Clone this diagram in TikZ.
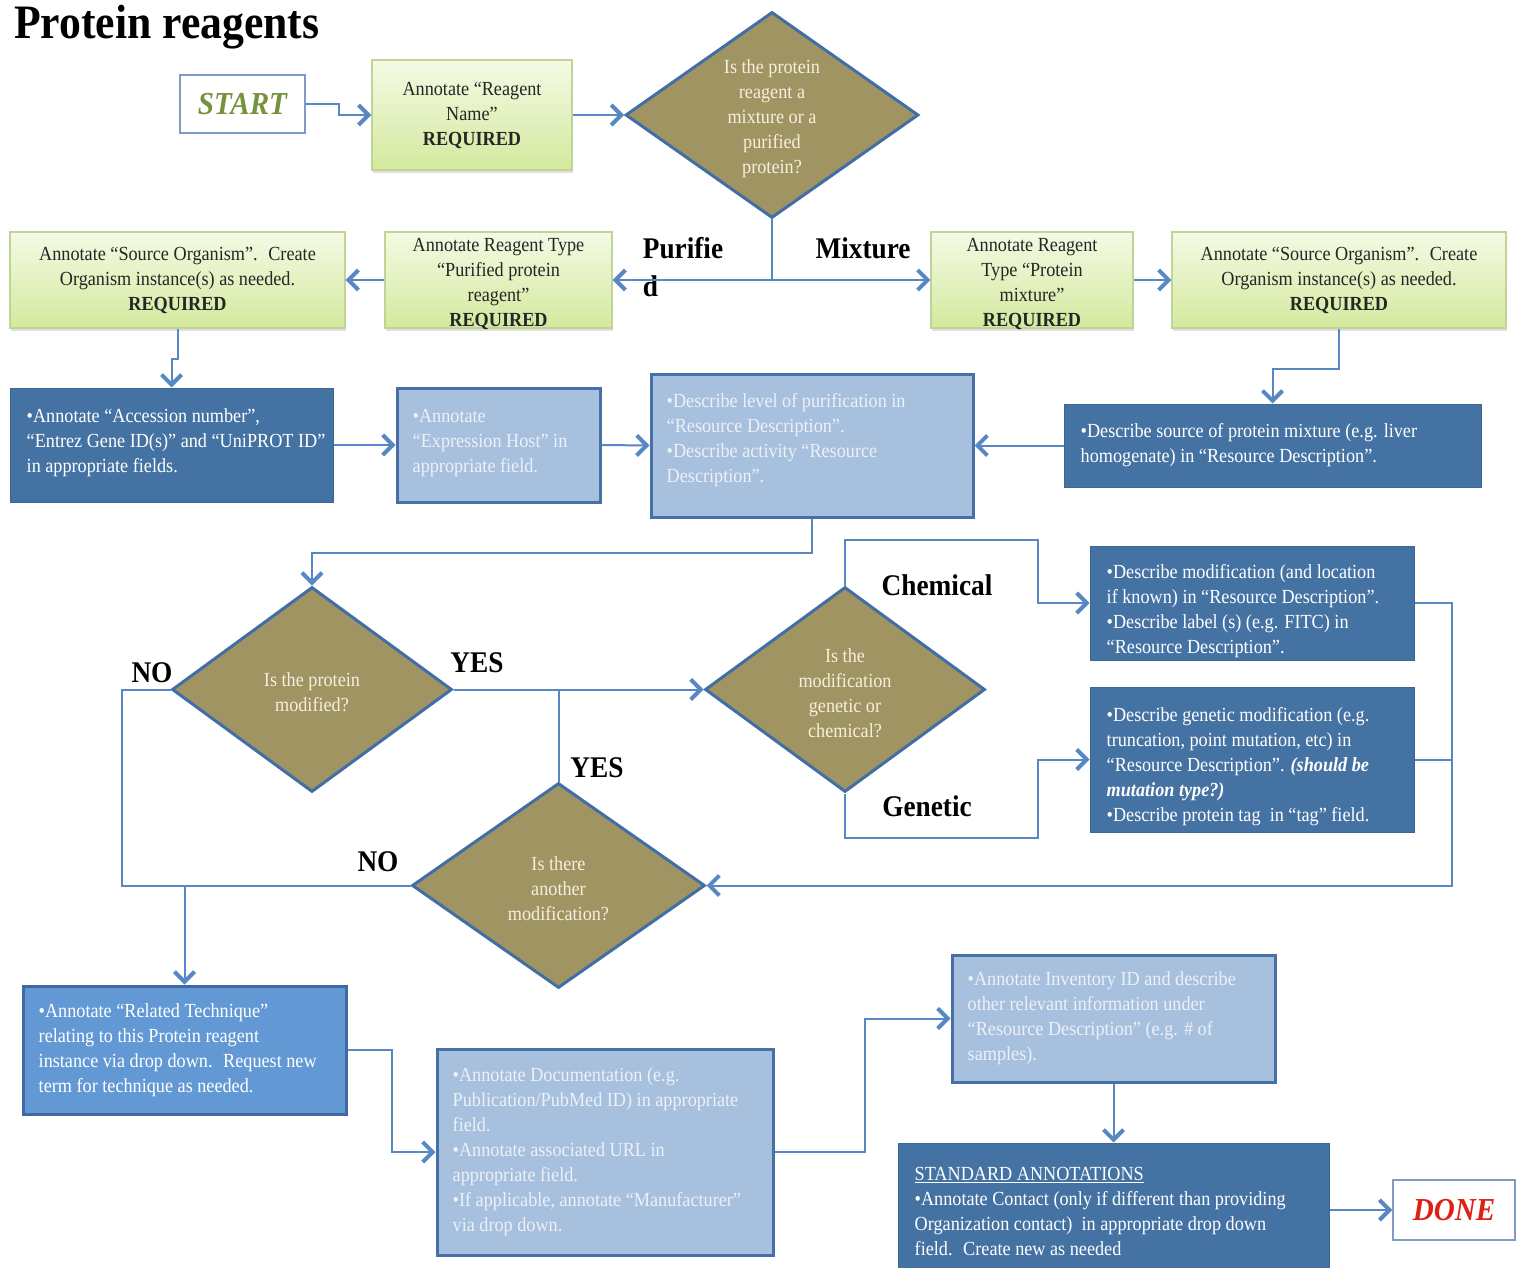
\documentclass[tikz,border=0pt]{standalone}
\usepackage{fontspec}
\setmainfont{Liberation Serif}[FakeStretch=0.91]
\usetikzlibrary{arrows.meta,shapes.geometric,shadows}
\definecolor{lineblue}{RGB}{88,136,196}
\definecolor{gtop}{RGB}{244,250,228}
\definecolor{gbot}{RGB}{212,233,158}
\definecolor{gborder}{RGB}{192,212,150}
\definecolor{dfill}{RGB}{160,148,98}
\definecolor{dborder}{RGB}{66,110,166}
\definecolor{darkblue}{RGB}{68,114,163}
\definecolor{lightblue}{RGB}{167,192,222}
\definecolor{lbborder}{RGB}{72,112,168}
\definecolor{rtblue}{RGB}{98,153,213}
\definecolor{rtborder}{RGB}{62,105,165}
\definecolor{startgreen}{RGB}{118,146,60}
\definecolor{donered}{RGB}{222,32,22}
\definecolor{paletext}{RGB}{236,241,248}
\definecolor{dtextc}{RGB}{245,240,222}
\tikzset{
  gbox/.style={draw=gborder, line width=1.2pt, top color=gtop, bottom color=gbot,
    align=center, inner sep=0pt, text=black!85,
    drop shadow={opacity=0.25, shadow xshift=1pt, shadow yshift=-3pt}},
  dbox/.style={fill=darkblue, draw=darkblue!90!black, line width=1pt, inner sep=0pt},
  lbox/.style={fill=lightblue, draw=lbborder, line width=3pt, inner sep=0pt},
  rbox/.style={fill=rtblue, draw=rtborder, line width=3pt, inner sep=0pt},
  wtext/.style={align=left, inner sep=0pt, text=white, anchor=west},
  ptext/.style={align=left, inner sep=0pt, text=paletext, anchor=west},
  dia/.style={shape=diamond, draw=dborder, line width=3pt, fill=dfill, inner sep=0pt},
  dtext/.style={align=center, inner sep=0pt, text=dtextc},
  lbl/.style={font=\fontsize{30}{38}\selectfont\bfseries, inner sep=0pt, text=black},
  conn/.style={draw=lineblue, line width=2pt},
  arr/.style={conn, -{Straight Barb[length=10pt,width=20pt,line width=4pt]}},
  termbox/.style={draw=lbborder!70, line width=1.5pt, fill=white, inner sep=0pt,
    font=\fontsize{32}{38}\selectfont\bfseries\itshape}
}
\begin{document}
\begin{tikzpicture}[x=1pt,y=-1pt,font=\fontsize{20}{25}\selectfont]
\useasboundingbox[fill=white] (0,0) rectangle (1523,1268);

% title
\node[anchor=base west, inner sep=0pt, font=\fontsize{48}{50}\selectfont\bfseries] (title) at (14,39) {Protein reagents};

% top row
\node[termbox, minimum width=125, minimum height=58, text=startgreen] (start) at (242.5,104) {START};
\node[gbox, minimum width=200, minimum height=110] (rn) at (472,115) {Annotate “Reagent\\Name”\\\textbf{REQUIRED}};
\node[dia, minimum width=293, minimum height=206] (d1) at (772,115) {};
\node[dtext] (d1t) at (772,119) {Is the protein\\reagent a\\mixture or a\\purified\\protein?};

% second row
\node[gbox, minimum width=227, minimum height=96] (pur) at (498.5,280) {};
\node[align=center, inner sep=0pt, text=black!85] (purt) at (498.5,284) {Annotate Reagent Type\\“Purified protein\\reagent”\\\textbf{REQUIRED}};
\node[gbox, minimum width=335, minimum height=96] (sol) at (177.5,280) {Annotate “Source Organism”.~ Create\\Organism instance(s) as needed.\\\textbf{REQUIRED}};
\node[gbox, minimum width=202, minimum height=96] (mix) at (1032,280) {};
\node[align=center, inner sep=0pt, text=black!85] (mixt) at (1032,284) {Annotate Reagent\\Type “Protein\\mixture”\\\textbf{REQUIRED}};
\node[gbox, minimum width=334, minimum height=96] (sor) at (1339,280) {Annotate “Source Organism”.~ Create\\Organism instance(s) as needed.\\\textbf{REQUIRED}};

\node[lbl, align=left] (lpur) at (683,267) {Purifie\\d};
\node[lbl] (lmix) at (863,248) {Mixture};

% third row
\node[dbox, minimum width=323, minimum height=114] (acc) at (171.5,445) {};
\node[wtext] (acct) at ([xshift=17pt,yshift=2pt]acc.west) {•Annotate “Accession number”,\\“Entrez Gene ID(s)” and “UniPROT ID”\\in appropriate fields.};
\node[lbox, minimum width=203, minimum height=114] (exp) at (498.5,445) {};
\node[ptext] (expt) at ([xshift=17pt,yshift=2pt]exp.west) {•Annotate\\“Expression Host” in\\appropriate field.};
\node[lbox, minimum width=322, minimum height=143] (puri) at (812,445.5) {};
\node[ptext] (purit) at ([xshift=17pt,yshift=5pt]puri.west) {•Describe level of purification in\\“Resource Description”.\\•Describe activity “Resource\\Description”.};
\node[dbox, minimum width=417, minimum height=83] (msrc) at (1272.5,445.5) {};
\node[wtext] (msrct) at ([xshift=17pt]msrc.west) {•Describe source of protein mixture (e.g. liver\\homogenate) in “Resource Description”.};

% decisions
\node[dia, minimum width=280, minimum height=205] (d2) at (312,689.5) {};
\node[dtext] (d2t) at (312,692) {Is the protein\\modified?};
\node[dia, minimum width=280, minimum height=205] (d3) at (845,689.5) {};
\node[dtext] (d3t) at (845,693) {Is the\\modification\\genetic or\\chemical?};
\node[dia, minimum width=293, minimum height=205] (d4) at (558.5,885.5) {};
\node[dtext] (d4t) at (558.5,889) {Is there\\another\\modification?};

\node[lbl] (lno1) at (152,673) {NO};
\node[lbl] (lyes1) at (477,663) {YES};
\node[lbl] (lyes2) at (597,768) {YES};
\node[lbl] (lno2) at (378,862) {NO};
\node[lbl] (lchem) at (937,585) {Chemical};
\node[lbl] (lgen) at (927,806) {Genetic};

\node[dbox, minimum width=324, minimum height=114] (chem) at (1252,603) {};
\node[wtext] (chemt) at ([xshift=17pt,yshift=-8pt]chem.west) {•Describe modification (and location\\if known) in “Resource Description”.\\•Describe label (s) (e.g. FITC) in\\“Resource Description”.};
\node[dbox, minimum width=324, minimum height=145] (gen) at (1252,759.5) {};
\node[wtext] (gent) at ([xshift=17pt,yshift=-7pt]gen.west) {•Describe genetic modification (e.g.\\truncation, point mutation, etc) in\\“Resource Description”. \textbf{\textit{(should be}}\\\textbf{\textit{mutation type?)}}\\•Describe protein tag~ in “tag” field.};

% bottom
\node[rbox, minimum width=323, minimum height=128] (rt) at (184.5,1050) {};
\node[wtext] (rtt) at ([xshift=17pt]rt.west) {•Annotate “Related Technique”\\relating to this Protein reagent\\instance via drop down.~ Request new\\term for technique as needed.};
\node[lbox, minimum width=336, minimum height=206] (doc) at (605,1152) {};
\node[ptext] (doct) at ([xshift=17pt]doc.west) {•Annotate Documentation (e.g.\\Publication/PubMed ID) in appropriate\\field.\\•Annotate associated URL in\\appropriate field.\\•If applicable, annotate “Manufacturer”\\via drop down.};
\node[lbox, minimum width=323, minimum height=127] (inv) at (1113.5,1018.5) {};
\node[ptext] (invt) at ([xshift=17pt]inv.west) {•Annotate Inventory ID and describe\\other relevant information under\\“Resource Description” (e.g. \# of\\samples).};
\node[dbox, minimum width=431, minimum height=134] (std) at (1113.5,1210) {};
\node[wtext] (stdt) at ([xshift=17pt,yshift=-2pt]std.west) {\underline{STANDARD ANNOTATIONS}\\•Annotate Contact (only if different than providing\\Organization contact)~ in appropriate drop down\\field.~ Create new as needed};
\node[termbox, minimum width=122, minimum height=60, text=donered] (done) at (1454,1210) {DONE};

% connectors
\coordinate (nl) at (122,885.5);
\coordinate (cj) at (1038,540);
\coordinate (gj) at (1038,838);
\coordinate (rj) at (1452,885.5);
\draw[arr] (start.east) -- ++(33,0) |- (rn.west);
\draw[arr] (rn.east) -- (d1.west);
\draw[arr] (d1.south) -- (d1.south |- pur.east) -- (pur.east);
\draw[arr] (d1.south |- mix.west) -- (mix.west);
\draw[arr] (pur.west) -- (sol.east);
\draw[arr] (mix.east) -- (sor.west);
\draw[arr] (sol.south) -- ++(0,30) -| (acc.north);
\draw[arr] (acc.east) -- (exp.west);
\draw[arr] (exp.east) -- (puri.west);
\draw[arr] (sor.south) -- ++(0,40) -| (msrc.north);
\draw[arr] (msrc.west) -- (puri.east);
\draw[arr] (puri.south) -- ++(0,34) -| (d2.north);
\draw[arr] (d2.east) -- (d3.west);
\draw[conn] (d4.north) -- (d4.north |- d2.east);
\draw[conn] (d2.west) -| (nl) -- (d4.west);
\draw[arr] (rt.north |- nl) -- (rt.north);
\draw[arr] (d3.north) |- (cj) |- (chem.west);
\draw[arr] (d3.south) |- (gj) |- (gen.west);
\draw[arr] (chem.east) -| (rj) -- (d4.east);
\draw[conn] (gen.east) -- (rj |- gen.east);
\draw[arr] (rt.east) -- ++(44,0) |- (doc.west);
\draw[arr] (doc.east) -- ++(90,0) |- (inv.west);
\draw[arr] (inv.south) -- (std.north);
\draw[arr] (std.east) -- (done.west);
\end{tikzpicture}
\end{document}
